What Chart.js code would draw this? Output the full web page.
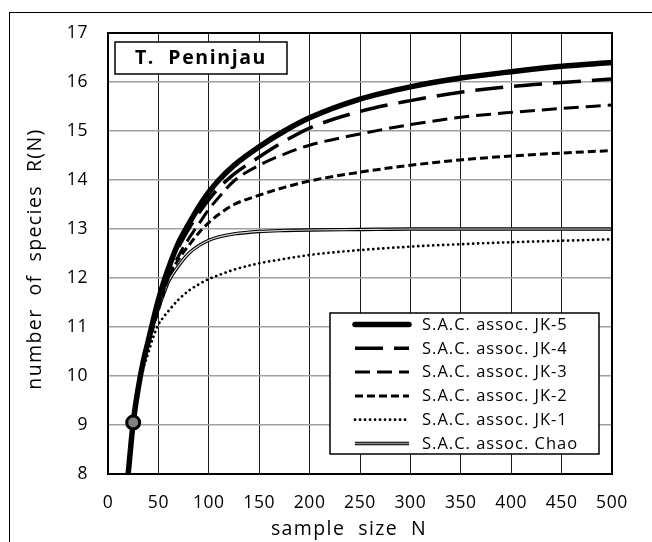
<!DOCTYPE html>
<html>
<head>
<meta charset="utf-8">
<script src="https://cdn.jsdelivr.net/npm/chart.js@4"></script>
<style>
    body { margin: 0; background: #fff; }
    #wrap { position: relative; width: 652px; height: 542px; overflow: hidden; }
    #frame { position: absolute; left: 9px; top: 12px; width: 700px; height: 600px; border-left: 1.5px solid #000; border-top: 1.5px solid #000; }
    canvas { position: absolute; left: 0; top: 0; }
</style>
</head>
<body>
<div id="wrap">
    <div id="frame"></div>
    <canvas id="sacChart" width="652" height="542"></canvas>
</div>
<script>
//data (sample size N -> number of species R(N))

const sampleN = [20, 25, 30, 35, 40, 45, 50, 55, 60, 70, 80, 90, 100, 110, 125, 150, 175, 200, 250, 300, 350, 400, 450, 500];

const jk5 = [8.0, 9.05, 9.75, 10.3, 10.72, 11.15, 11.55, 11.9, 12.2, 12.72, 13.1, 13.45, 13.75, 14.0, 14.3, 14.68, 15.0, 15.27, 15.65, 15.9, 16.08, 16.21, 16.32, 16.4];
const jk4 = [8.0, 9.05, 9.75, 10.3, 10.72, 11.15, 11.55, 11.9, 12.18, 12.63, 13.0, 13.32, 13.6, 13.84, 14.12, 14.47, 14.79, 15.06, 15.4, 15.62, 15.79, 15.91, 15.99, 16.06];
const jk3 = [8.0, 9.05, 9.75, 10.28, 10.68, 11.07, 11.42, 11.74, 12.02, 12.45, 12.8, 13.1, 13.4, 13.65, 13.98, 14.3, 14.53, 14.71, 14.94, 15.13, 15.28, 15.38, 15.46, 15.53];
const jk2 = [8.0, 9.05, 9.73, 10.25, 10.64, 11.0, 11.35, 11.7, 12.0, 12.38, 12.66, 12.92, 13.13, 13.3, 13.5, 13.69, 13.85, 13.98, 14.16, 14.3, 14.41, 14.49, 14.55, 14.6];
const jk1 = [8.0, 9.02, 9.68, 10.15, 10.47, 10.8, 11.05, 11.2, 11.33, 11.56, 11.74, 11.87, 11.98, 12.06, 12.17, 12.3, 12.39, 12.47, 12.57, 12.64, 12.69, 12.73, 12.76, 12.79];
const chao = [8.0, 9.05, 9.73, 10.26, 10.68, 11.05, 11.38, 11.66, 11.93, 12.25, 12.5, 12.66, 12.77, 12.84, 12.9, 12.95, 12.97, 12.98, 12.99, 13.0, 13.0, 13.0, 13.0, 13.0];

const markerPoint = [{ x: 25, y: 9.05 }];

const xTicks = { min: 0, max: 500, step: 50 };
const yTicks = { min: 8, max: 17, step: 1 };

const titleText = 'T.  Peninjau';
const xTitle = 'sample  size  N';
const yTitle = 'number  of  species  R(N)';

const labelJK5 = 'S.A.C. assoc. JK-5';
const labelJK4 = 'S.A.C. assoc. JK-4';
const labelJK3 = 'S.A.C. assoc. JK-3';
const labelJK2 = 'S.A.C. assoc. JK-2';
const labelJK1 = 'S.A.C. assoc. JK-1';
const labelChao = 'S.A.C. assoc. Chao';

const fontName = "'Open Sans', 'Liberation Sans', sans-serif";
const black = '#000000';
const gridGray = '#a0a0a0';

const toXY = (vals) => sampleN.map((n, i) => ({ x: n, y: vals[i] }));

const line = (label, vals, width, dash, order, extra) => Object.assign({
    label: label,
    data: toXY(vals),
    borderColor: black,
    borderWidth: width,
    borderDash: dash,
    pointRadius: 0,
    fill: false,
    cubicInterpolationMode: 'monotone',
    order: order
}, extra || {});

const datasets = [
    {
        label: '',
        data: markerPoint,
        type: 'scatter',
        pointRadius: 6.5,
        pointBackgroundColor: '#808080',
        pointBorderColor: black,
        pointBorderWidth: 3,
        order: 0
    },
    line(labelJK5, jk5, 5.5, [], 1),
    line(labelJK4, jk4, 3.5, [28, 11], 2),
    line(labelJK3, jk3, 3, [15, 7], 3),
    line(labelJK2, jk2, 3, [8, 4], 4),
    line(labelJK1, jk1, 2.7, [0.1, 4.9], 5, { borderCapStyle: 'round' }),
    line('', chao, 1.2, [], 6, { borderColor: '#d8d8d8' }),
    line(labelChao, chao, 3.4, [], 7)
];

//legend rows, in the order shown in the box
const legendRows = [labelJK5, labelJK4, labelJK3, labelJK2, labelJK1, labelChao];

const framePlugin = {
    id: 'framePlugin',
    beforeDraw(chart) {
        //slightly wider letters for the tick labels
        chart.ctx.letterSpacing = '0.6px';
    },
    afterDatasetsDraw(chart) {
        const { ctx, chartArea: a } = chart;
        ctx.save();
        ctx.strokeStyle = black;
        ctx.lineWidth = 2;
        ctx.strokeRect(a.left, a.top, a.right - a.left, a.bottom - a.top);
        ctx.restore();
    },
    afterDraw(chart) {
        const ctx = chart.ctx;
        ctx.save();
        ctx.fillStyle = black;

        //axis titles
        ctx.font = '19.5px ' + fontName;
        ctx.letterSpacing = '1.4px';
        ctx.textAlign = 'center';
        ctx.textBaseline = 'middle';
        ctx.fillText(xTitle, 349, 529);
        ctx.save();
        ctx.translate(35, 259);
        ctx.rotate(-Math.PI / 2);
        ctx.fillText(yTitle, 0, 0);
        ctx.restore();

        //title box in the top left corner
        ctx.fillStyle = '#fff';
        ctx.fillRect(115, 42, 172, 32);
        ctx.strokeStyle = black;
        ctx.lineWidth = 1.5;
        ctx.strokeRect(115, 42, 172, 32);
        ctx.fillStyle = black;
        ctx.font = 'bold 19.5px ' + fontName;
        ctx.letterSpacing = '1.6px';
        ctx.fillText(titleText, 201, 58);

        //legend box
        ctx.fillStyle = '#fff';
        ctx.fillRect(330, 313, 269, 141);
        ctx.strokeRect(330, 313, 269, 141);
        ctx.font = '16.5px ' + fontName;
        ctx.letterSpacing = '1px';
        ctx.textAlign = 'left';
        legendRows.forEach((lbl, i) => {
            const y = 324.5 + i * 23.8;
            chart.data.datasets.forEach((ds) => {
                if (ds.label !== lbl) return;
                ctx.save();
                ctx.strokeStyle = ds.borderColor;
                ctx.lineWidth = ds.borderWidth;
                ctx.setLineDash(ds.borderDash || []);
                ctx.lineCap = ds.borderCapStyle || (lbl === labelJK5 ? 'round' : 'butt');
                ctx.beginPath();
                ctx.moveTo(355, y);
                ctx.lineTo(409, y);
                ctx.stroke();
                if (lbl === labelChao) {
                    ctx.strokeStyle = '#909090';
                    ctx.lineWidth = 1.4;
                    ctx.beginPath();
                    ctx.moveTo(355, y);
                    ctx.lineTo(409, y);
                    ctx.stroke();
                }
                ctx.restore();
            });
            ctx.fillStyle = black;
            ctx.fillText(lbl, 422, y + 0.5);
        });
        ctx.restore();
    }
};

const sacChart = new Chart(document.getElementById('sacChart'), {
    type: 'line',
    data: { datasets: datasets },
    options: {
        responsive: false,
        animation: false,
        layout: { padding: { top: 33, right: 40, left: 0, bottom: 0 } },
        plugins: {
            legend: { display: false },
            tooltip: { enabled: false }
        },
        scales: {
            x: {
                type: 'linear',
                min: xTicks.min,
                max: xTicks.max,
                afterFit: (scale) => { scale.height = 68; },
                ticks: {
                    stepSize: xTicks.step,
                    color: black,
                    padding: 19,
                    font: { family: fontName, size: 17.5 }
                },
                grid: { color: '#1a1a1a', lineWidth: 1, drawTicks: false },
                border: { display: false }
            },
            y: {
                min: yTicks.min,
                max: yTicks.max,
                afterFit: (scale) => { scale.width = 108; },
                ticks: {
                    stepSize: yTicks.step,
                    color: black,
                    padding: 20,
                    font: { family: fontName, size: 17.5 }
                },
                grid: { color: gridGray, lineWidth: 1.5, drawTicks: false },
                border: { display: false }
            }
        }
    },
    plugins: [framePlugin]
});
</script>
</body>
</html>
